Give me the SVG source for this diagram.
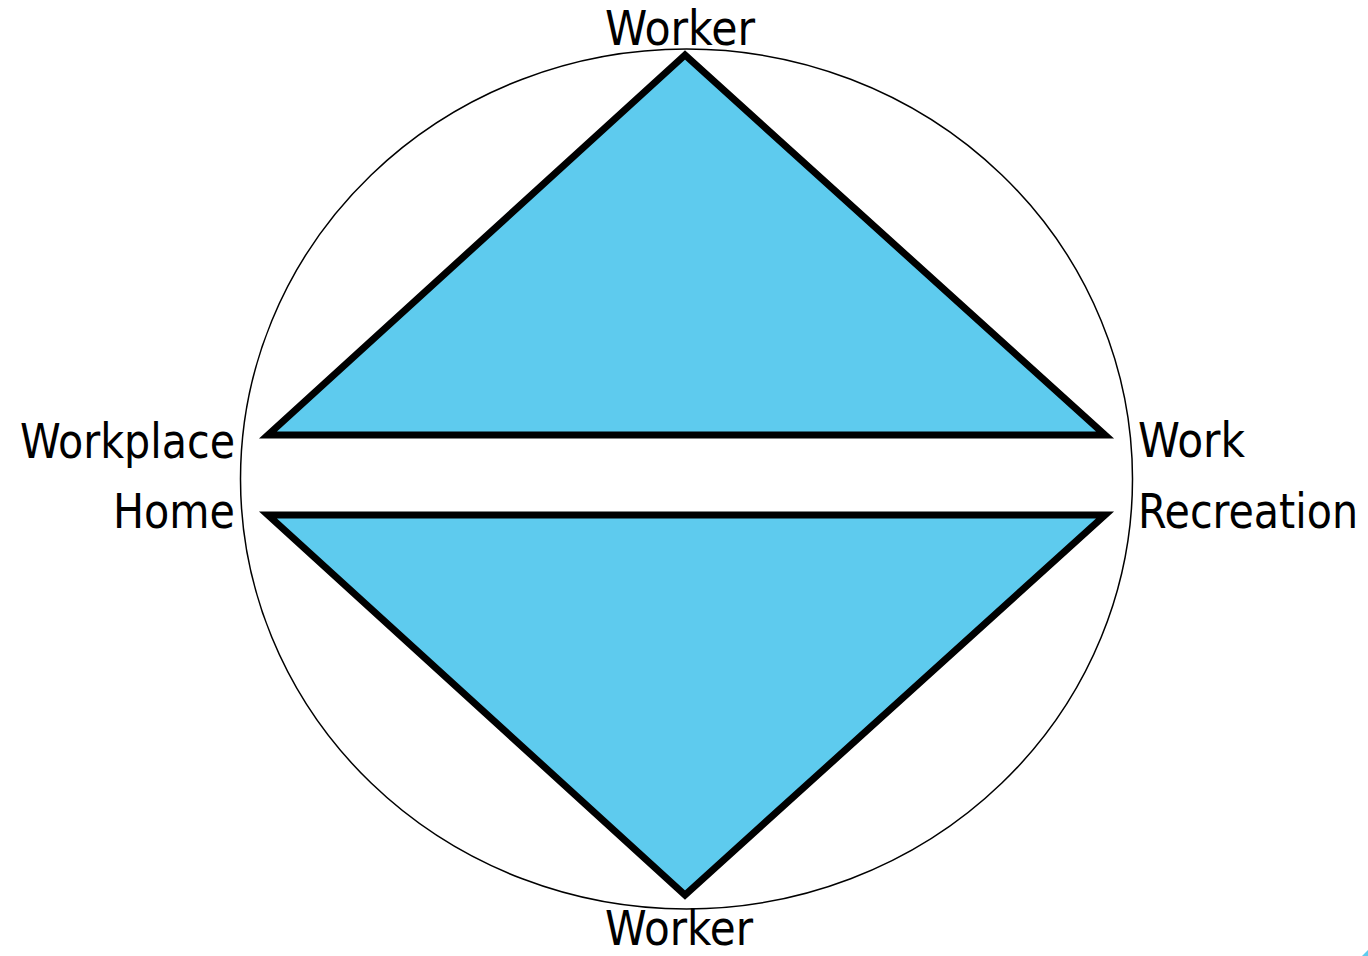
<svg xmlns="http://www.w3.org/2000/svg" width="1368" height="956" viewBox="0 0 1368 956">
<style>
.lbl{font-family:"DejaVu Sans Condensed","DejaVu Sans",sans-serif;font-size:48px;fill:#000}
.tri{fill:#5ECBEE;stroke:#000;stroke-width:7;stroke-linejoin:miter}
</style>
<rect width="1368" height="956" fill="#fff"/>
<g id="circle"><ellipse cx="686.5" cy="479" rx="446" ry="430" fill="none" stroke="#000" stroke-width="1.5"/></g>
<g id="top-triangle"><polygon class="tri" points="685,55 268,435 1105,435"/></g>
<g id="bottom-triangle"><polygon class="tri" points="268,515 1105,515 685,895"/></g>
<g id="labels">
<text class="lbl" x="680" y="45" text-anchor="middle" textLength="150" lengthAdjust="spacingAndGlyphs">Worker</text>
<text class="lbl" x="679" y="945" text-anchor="middle" textLength="148" lengthAdjust="spacingAndGlyphs">Worker</text>
<text class="lbl" x="235" y="458" text-anchor="end" textLength="215" lengthAdjust="spacingAndGlyphs">Workplace</text>
<text class="lbl" x="235" y="528" text-anchor="end" textLength="122" lengthAdjust="spacingAndGlyphs">Home</text>
<text class="lbl" x="1138" y="457" textLength="107" lengthAdjust="spacingAndGlyphs">Work</text>
<text class="lbl" x="1138" y="528" textLength="220" lengthAdjust="spacingAndGlyphs">Recreation</text>
</g>
<path d="M1362,956 L1368,950 L1368,956 Z" fill="#5ECBEE"/>
</svg>
